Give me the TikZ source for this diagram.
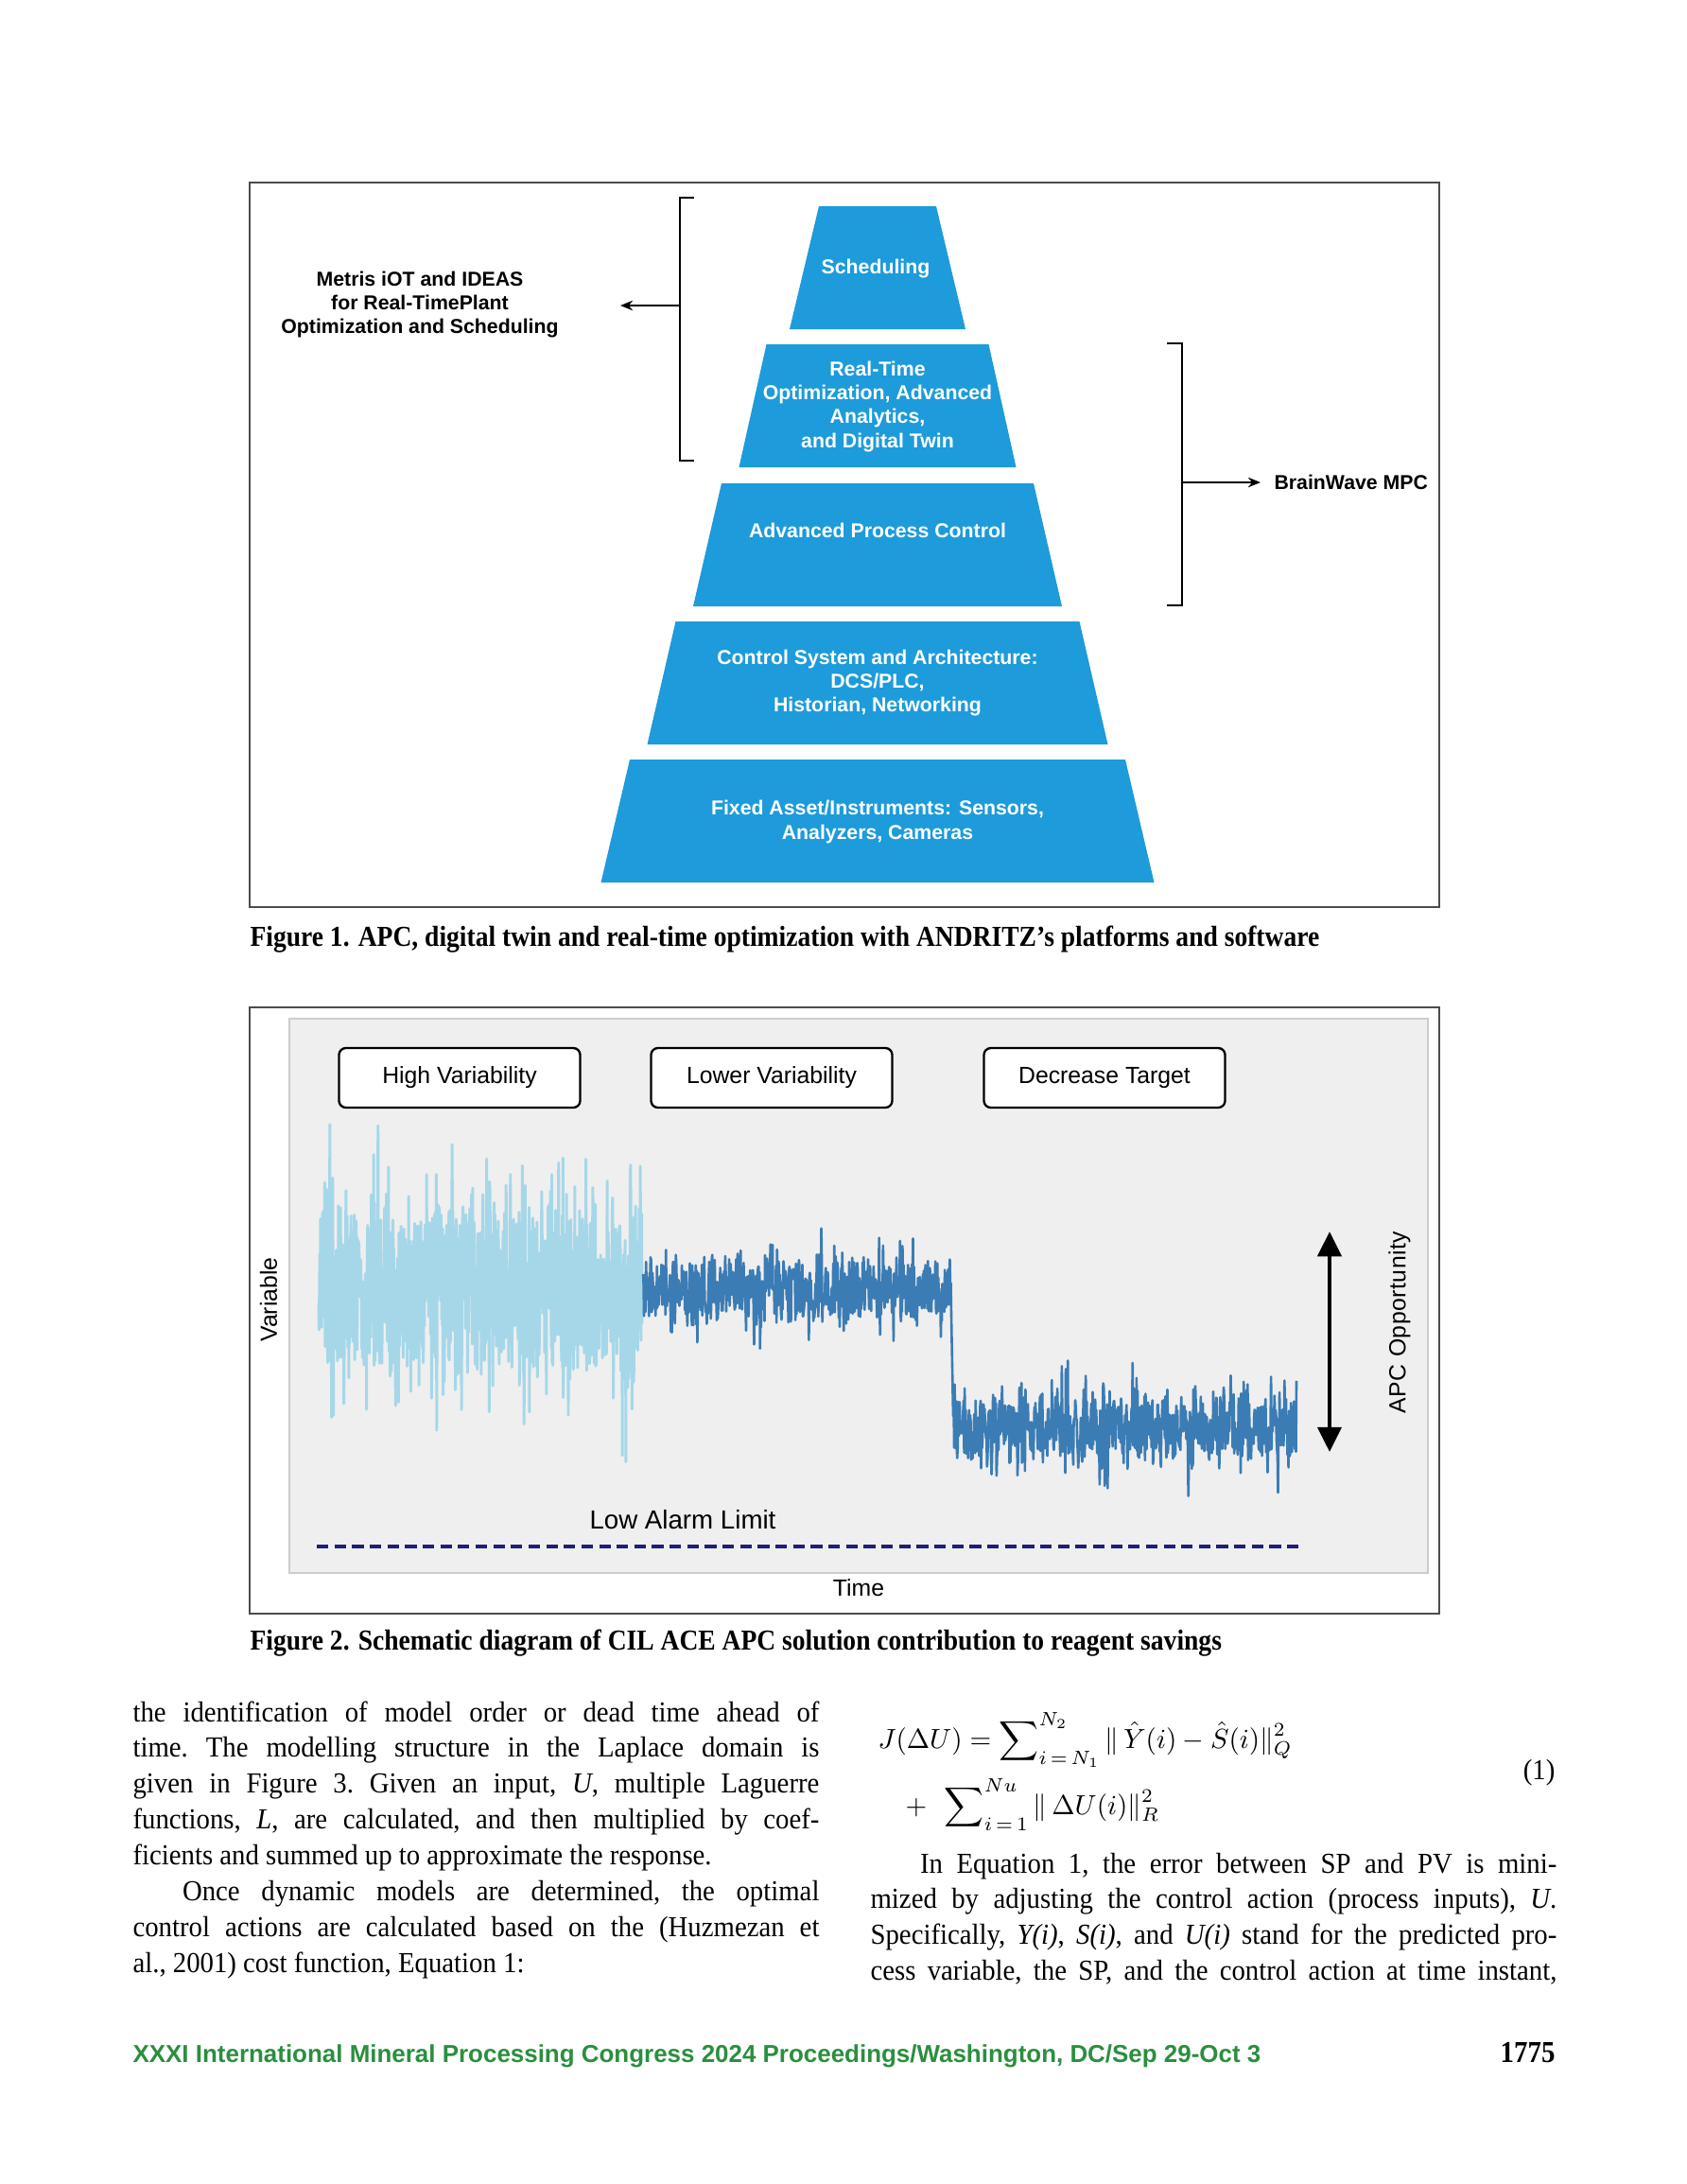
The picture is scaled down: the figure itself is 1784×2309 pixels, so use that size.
\documentclass[tikz,border=0pt]{standalone}
\usepackage{fontspec}
\usepackage{amsmath}
\usetikzlibrary{arrows.meta}
\setmainfont{Liberation Serif}[FakeStretch=0.94, BoldFeatures={FakeStretch=0.90}]
\setsansfont{Liberation Sans}
\definecolor{apcblue}{RGB}{29,155,218}
\definecolor{lightwave}{RGB}{166,215,233}
\definecolor{darkwave}{RGB}{60,124,180}
\definecolor{alarmblue}{RGB}{28,32,120}
\definecolor{panelgray}{RGB}{239,239,239}
\definecolor{footgreen}{RGB}{42,143,62}

\begin{document}
\begin{tikzpicture}[x=0.34305pt, y=-0.34305pt,
    layer/.style={fill=apcblue},
    layertext/.style={text=white, align=center, inner sep=0pt, font=\sffamily\bfseries\fontsize{7.3}{8.6}\selectfont},
    sidetext/.style={align=center, inner sep=0pt, font=\sffamily\bfseries\fontsize{7.3}{8.6}\selectfont},
    bracket/.style={line width=0.8pt},
    pointer/.style={-{Stealth[length=4.5pt,width=3.6pt]}, line width=0.7pt},
    frame/.style={draw=black!70, line width=0.8pt},
    tagbox/.style={draw=black, fill=white, rounded corners=2.5pt, line width=0.8pt, minimum width=87.5pt, minimum height=21.6pt, font=\sffamily\fontsize{8.5}{10}\selectfont},
    axistext/.style={inner sep=0pt, font=\sffamily\fontsize{8.5}{10}\selectfont},
    caption/.style={anchor=base west, inner sep=0pt, font=\bfseries\fontsize{10.5}{13}\selectfont},
    bodytext/.style={anchor=base west, inner sep=0pt, text width=249pt, align=justify, font=\frenchspacing\fontsize{10.5}{13}\selectfont},
    eqtext/.style={inner sep=0pt, font=\fontsize{10}{13}\selectfont},
    wave/.style={line width=0.9pt, line join=round}
  ]
  \useasboundingbox[fill=white] (0,0) rectangle (1784,2309);

  % Figure 1: pyramid
  \draw[frame] (264,193) rectangle (1522,959);
  \foreach \t/\a/\b in {218/62/93, 364/117.5/146.5, 511/165/195, 657/213.5/243.5, 803/262/292.5}
    \fill[layer] (928-\a,\t) -- (928+\a,\t) -- (928+\b,\t+130) -- (928-\b,\t+130) -- cycle;

  \node[layertext] (sched) at (926,284) {Scheduling};
  \node[layertext] (rto) at (928,430) {Real-Time\\Optimization, Advanced\\Analytics,\\and Digital Twin};
  \node[layertext] (apc) at (928,561) {Advanced Process Control};
  \node[layertext] (dcs) at (928,722) {Control System and Architecture:\\DCS/PLC,\\Historian, Networking};
  \node[layertext] (asset) at (928,869) {Fixed Asset/Instruments: Sensors,\\Analyzers, Cameras};

  \node[sidetext] (metris) at (444,322) {Metris iOT and IDEAS\\for Real-TimePlant\\Optimization and Scheduling};
  \node[sidetext, anchor=west] (mpc) at (1347,510) {BrainWave MPC};

  \draw[bracket] (734,209) -- (719,209) -- (719,487) -- (734,487);
  \draw[bracket] (1234,363) -- (1250,363) -- (1250,640) -- (1234,640);
  \coordinate (lmid) at (719,323);
  \coordinate (ltip) at (656,323);
  \coordinate (rmid) at (1250,510);
  \coordinate (rtip) at (1333,510);
  \draw[pointer] (lmid) -- (ltip);
  \draw[pointer] (rmid) -- (rtip);

  \node[caption] (cap1) at (264,1000) {Figure 1. APC, digital twin and real-time optimization with ANDRITZ’s platforms and software};

  % Figure 2: variability
  \draw[frame] (264,1065) rectangle (1522,1706);
  \fill[panelgray, draw=black!20] (306,1077) rectangle (1510,1663);

  \node[tagbox] (high) at (486,1139.5) {High Variability};
  \node[tagbox] (lower) at (816,1139.5) {Lower Variability};
  \node[tagbox] (target) at (1168,1139.5) {Decrease Target};

  \pgfmathsetseed{7}
  \draw[wave, lightwave, line width=1pt] plot[domain=337:679, samples=900] (\x,{1362+85*rand+150*rand*rand*rand});
  \draw[wave, darkwave] plot[domain=680:1006, samples=620] (\x,{1362+30*rand+62*rand*rand*rand})
    -- plot[domain=1008:1371, samples=690] (\x,{1510+32*rand+68*rand*rand*rand});

  \coordinate (oppup) at (1406,1302);
  \coordinate (oppdown) at (1406,1535);
  \draw[{Triangle[length=9pt,width=8.5pt]}-{Triangle[length=9pt,width=8.5pt]}, line width=1.6pt] (oppup) -- (oppdown);
  \node[axistext, rotate=90] (opp) at (1480,1398) {\addfontfeatures{LetterSpace=2}APC Opportunity};
  \node[axistext, rotate=90] (var) at (284,1374) {Variable};
  \node[axistext] (time) at (908,1679) {Time};
  \node[axistext, font=\sffamily\fontsize{9.5}{11}\selectfont] (alarm) at (722,1607) {Low Alarm Limit};
  \coordinate (alarml) at (335,1635);
  \coordinate (alarmr) at (1374,1635);
  \draw[alarmblue, line width=1.1pt, dash pattern=on 4.2pt off 2.2pt] (alarml) -- (alarmr);

  \node[caption] (cap2) at (264,1744) {Figure 2. Schematic diagram of CIL ACE APC solution contribution to reagent savings};

  % text columns
  \node[bodytext] (leftcol) at (140,1820) {the identification of model order or dead time ahead of\linebreak time. The modelling structure in the Laplace domain is\linebreak given in Figure 3. Given an input, \textit{U}, multiple Laguerre\linebreak functions, \textit{L}, are calculated, and then multiplied by coef-\linebreak ficients and summed up to approximate the response.\par
    \hspace*{18pt}Once dynamic models are determined, the optimal\linebreak control actions are calculated based on the (Huzmezan et\linebreak al., 2001) cost function, Equation 1:};

  \node[eqtext, anchor=base west] (eqa) at (928,1848) {$J(\Delta U)=\displaystyle\sum\nolimits_{i\,=\,N_1}^{N_2}\|\,\hat{Y}(i)-\hat{S}(i)\|_Q^2$};
  \node[eqtext, anchor=base west] (eqb) at (957,1918) {$+\ \ \displaystyle\sum\nolimits_{i\,=\,1}^{Nu}\|\,\Delta U(i)\|_R^2$};
  \node[eqtext, anchor=base east, font=\fontsize{10.5}{13}\selectfont] (eqnum) at (1645,1881) {(1)};

  \node[bodytext] (rightcol) at (920,1980) {\hspace*{18pt}In Equation 1, the error between SP and PV is mini-\linebreak mized by adjusting the control action (process inputs), \textit{U}.\linebreak Specifically, \textit{Y(i)}, \textit{S(i)}, and \textit{U(i)} stand for the predicted pro-\linebreak cess variable, the SP, and the control action at time instant,{\parfillskip=0pt\par}};

  \node[anchor=base west, inner sep=0pt, text=footgreen, font=\sffamily\bfseries\fontsize{8.9}{10}\selectfont] (footer) at (140,2180) {XXXI International Mineral Processing Congress 2024 Proceedings/Washington, DC/Sep 29-Oct 3};
  \node[anchor=base east, inner sep=0pt, font=\bfseries\fontsize{11}{13}\selectfont] (pagenum) at (1645,2180) {1775};
\end{tikzpicture}
\end{document}
